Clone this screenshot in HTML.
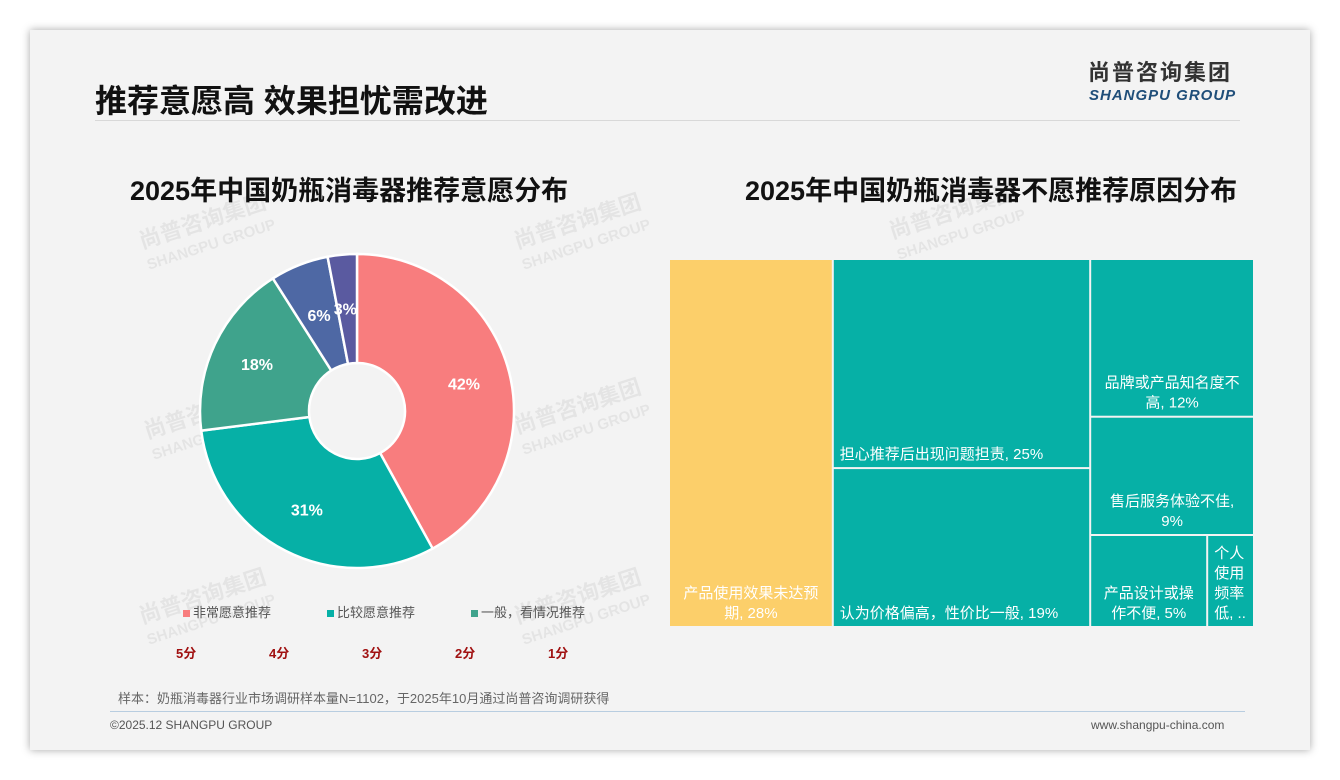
<!DOCTYPE html>
<html><head><meta charset="utf-8">
<style>
body{margin:0;width:1340px;height:780px;background:#fff;font-family:"Liberation Sans","Noto Sans CJK SC",sans-serif;position:relative;overflow:hidden}
.card{position:absolute;left:30px;top:30px;width:1280px;height:720px;background:#f3f3f3;box-shadow:0 0 8px rgba(0,0,0,.35)}
.abs{position:absolute;white-space:nowrap}
.wm{position:absolute;color:rgba(0,0,0,.06);font-weight:bold;transform:rotate(-18deg);line-height:1}
</style></head><body>
<div class="card"></div>
<div class="abs" style="left:95px;top:76px;font-size:32px;font-weight:bold;color:#111">推荐意愿高 效果担忧需改进</div>
<div class="abs" style="left:95px;top:120px;width:1145px;height:1px;background:#d8d8d8"></div>
<div class="abs" style="left:1088px;top:60px;font-size:22px;line-height:26px;font-weight:bold;color:#333;letter-spacing:2px">尚普咨询集团</div>
<div class="abs" style="left:1089px;top:87px;font-size:15px;line-height:17px;font-weight:bold;font-style:italic;color:#1f4e79;letter-spacing:1px">SHANGPU GROUP</div>

<div class="wm" style="left:140px;top:210px;font-size:22px">尚普咨询集团<br><span style="font-size:15px">SHANGPU GROUP</span></div>
<div class="wm" style="left:515px;top:210px;font-size:22px">尚普咨询集团<br><span style="font-size:15px">SHANGPU GROUP</span></div>
<div class="wm" style="left:890px;top:200px;font-size:22px">尚普咨询集团<br><span style="font-size:15px">SHANGPU GROUP</span></div>
<div class="wm" style="left:145px;top:400px;font-size:22px">尚普咨询集团<br><span style="font-size:15px">SHANGPU GROUP</span></div>
<div class="wm" style="left:515px;top:395px;font-size:22px">尚普咨询集团<br><span style="font-size:15px">SHANGPU GROUP</span></div>
<div class="wm" style="left:140px;top:585px;font-size:22px">尚普咨询集团<br><span style="font-size:15px">SHANGPU GROUP</span></div>
<div class="wm" style="left:515px;top:585px;font-size:22px">尚普咨询集团<br><span style="font-size:15px">SHANGPU GROUP</span></div>

<div class="abs" style="left:130px;top:169px;font-size:27px;font-weight:bold;color:#111">2025年中国奶瓶消毒器推荐意愿分布</div>
<div class="abs" style="left:745px;top:169px;font-size:27px;font-weight:bold;color:#111">2025年中国奶瓶消毒器不愿推荐原因分布</div>

<svg class="abs" style="left:0;top:0" width="1340" height="780" id="svg"></svg>

<div class="abs" style="left:183px;top:602px;font-size:13px;color:#555;width:500px">
<span style="position:absolute;left:0"><span style="display:inline-block;width:7px;height:7px;background:#f87d7e;margin-right:3px"></span>非常愿意推荐</span>
<span style="position:absolute;left:144px"><span style="display:inline-block;width:7px;height:7px;background:#06b0a6;margin-right:3px"></span>比较愿意推荐</span>
<span style="position:absolute;left:288px"><span style="display:inline-block;width:7px;height:7px;background:#3fa38c;margin-right:3px"></span>一般，看情况推荐</span>
</div>
<div class="abs" style="left:0;top:643px;font-size:13px;font-weight:bold;color:#a01010">
<span class="abs" style="left:176px">5分</span><span class="abs" style="left:269px">4分</span><span class="abs" style="left:362px">3分</span><span class="abs" style="left:455px">2分</span><span class="abs" style="left:548px">1分</span>
</div>
<div class="abs" style="left:118px;top:688px;font-size:13px;color:#666">样本：奶瓶消毒器行业市场调研样本量N=1102，于2025年10月通过尚普咨询调研获得</div>
<div class="abs" style="left:110px;top:711px;width:1135px;height:1px;background:#b8cde0"></div>
<div class="abs" style="left:110px;top:718px;font-size:12px;color:#555">©2025.12 SHANGPU GROUP</div>
<div class="abs" style="left:1091px;top:718px;font-size:12px;color:#555">www.shangpu-china.com</div>

<script>
const pieLabels=["非常愿意推荐","比较愿意推荐","一般，看情况推荐","不太愿意推荐","非常不愿意推荐"];
const pieValues=[42,31,18,6,3];
const pieColors=["#f87d7e","#06b0a6","#3fa38c","#4e68a4","#5a5aa0"];
const tmLabels=["产品使用效果未达预期","担心推荐后出现问题担责","认为价格偏高，性价比一般","品牌或产品知名度不高","售后服务体验不佳","产品设计或操作不便","个人使用频率低"];
const tmValues=[28,25,19,12,9,5,2];
const tmWrap=[9,99,99,9,9,6,2];
const NS="http://www.w3.org/2000/svg";
const svg=document.getElementById('svg');
function mk(t,a){const e=document.createElementNS(NS,t);for(const k in a)e.setAttribute(k,a[k]);svg.appendChild(e);return e;}
const cx=357,cy=411,R=157,r=48;
const tot=pieValues.reduce((a,b)=>a+b,0);
let ang=0;
function pt(rad,a){return [cx+rad*Math.sin(a),cy-rad*Math.cos(a)];}
pieValues.forEach((v,i)=>{
  const a0=ang,a1=ang+v/tot*2*Math.PI;ang=a1;
  const lg=(a1-a0)>Math.PI?1:0;
  const p0=pt(R,a0),p1=pt(R,a1),q1=pt(r,a1),q0=pt(r,a0);
  const p=mk('path',{d:`M${p0[0]},${p0[1]}A${R},${R} 0 ${lg} 1 ${p1[0]},${p1[1]}L${q1[0]},${q1[1]}A${r},${r} 0 ${lg} 0 ${q0[0]},${q0[1]}Z`,fill:pieColors[i],stroke:'#fff','stroke-width':2.5});
  
  
  const am=(a0+a1)/2,lp=pt(i>=3?103:(R+r)/2+8,am);
  const t=mk('text',{x:lp[0]+(i==4?-2:0),y:lp[1]+6,'text-anchor':'middle','font-size':16,'font-weight':'bold',fill:'#fff'});
  t.textContent=v+'%';
  
  
});
const X0=670,Y0=260,W=585,H=368,G=2;
const T=tmValues.reduce((a,b)=>a+b,0);
const cols=[[0],[1,2],[3,4,[5,6]]];
let x=X0;
function rect(i,rx,ry,rw,rh,color){
  const e=mk('rect',{x:rx,y:ry,width:rw,height:rh,fill:color});
  
  
  const n=tmWrap[i];
  let lines=[];
  if(i==6) lines=["个人","使用","频率","低, .."];
  else {let s=tmLabels[i];while(s.length>n){lines.push(s.slice(0,n));s=s.slice(n);}lines.push(s+', '+tmValues[i]+'%');}
  if(i==4) lines=[tmLabels[i]+',',tmValues[i]+'%'];
  const lh=20;
  lines.forEach((ln,k)=>{
    const left=(i==1||i==2||i==6);
    const t=mk('text',{x:left?rx+6:rx+rw/2,y:ry+rh-8-(lines.length-1-k)*lh,'text-anchor':left?'start':'middle','font-size':15,fill:'#fff'});
    t.textContent=ln;
    
    
  });
}
cols.forEach(col=>{
  const flat=col.flat();
  const s=flat.reduce((a,i)=>a+tmValues[i],0);
  const cw=W*s/T;
  let y=Y0;
  col.forEach(item=>{
    const items=Array.isArray(item)?item:[item];
    const is=items.reduce((a,i)=>a+tmValues[i],0);
    const ch=H*is/s;
    let xx=x;
    items.forEach(i=>{
      const w=cw*tmValues[i]/is;
      rect(i,xx,y,w-G,ch-G,i==0?'#fccf6a':'#06b0a6');
      xx+=w;
    });
    y+=ch;
  });
  x+=cw;
});
</script>
</body></html>
